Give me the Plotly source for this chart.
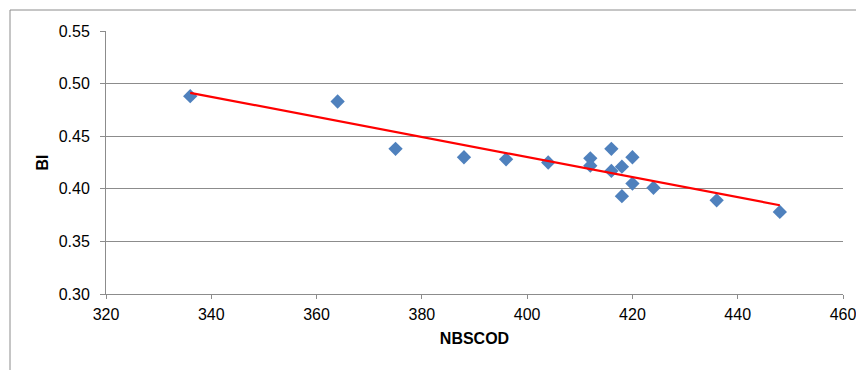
import numpy as np
import plotly.graph_objects as go

nbscod = [336, 364, 375, 388, 396, 404, 412, 412, 416, 416, 418, 420, 420, 418, 424, 436, 448]
bi = [0.488, 0.483, 0.438, 0.430, 0.428, 0.425, 0.429, 0.422, 0.438, 0.417, 0.421, 0.430, 0.405, 0.393, 0.401, 0.389, 0.378]

x_ticks = [320, 340, 360, 380, 400, 420, 440, 460]
y_ticks = [0.30, 0.35, 0.40, 0.45, 0.50, 0.55]

slope, intercept = np.polyfit(nbscod, bi, 1)
tx = [min(nbscod), max(nbscod)]
ty = [slope * v + intercept for v in tx]

fig = go.Figure()
fig.add_trace(go.Scatter(x=nbscod, y=bi, mode="markers",
                         marker=dict(symbol="diamond", size=11, color="#4F81BD",
                                     line=dict(width=0)),
                         showlegend=False))
fig.add_trace(go.Scatter(x=tx, y=ty, mode="lines",
                         line=dict(color="#FF0000", width=2.2),
                         showlegend=False))

# page has an 8px body margin; figure sized to fill the window exactly
OFF = 8
W, H = 864 - OFF, 370 - OFF
L, R, T, B = 106 - OFF, 21, 31 - OFF, 76
pw, ph = W - L - R, H - T - B

def px(xpage):
    return (xpage - OFF - L) / pw

def py(ypage):
    return (H - B - (ypage - OFF)) / ph

fig.add_shape(type="line", xref="paper", yref="paper",
              x0=px(10), x1=px(880), y0=py(10), y1=py(10),
              line=dict(color="#8C8C8C", width=1))
fig.add_shape(type="line", xref="paper", yref="paper",
              x0=px(10), x1=px(10), y0=py(10), y1=py(390),
              line=dict(color="#8C8C8C", width=1))

font = "Liberation Sans, Arial, sans-serif"
fig.update_layout(
    width=W, height=H,
    margin=dict(l=L, r=R, t=T, b=B),
    paper_bgcolor="white", plot_bgcolor="white",
    font=dict(family=font, size=16, color="#000000"),
    xaxis=dict(range=[320, 460], tickvals=x_ticks, ticktext=[str(v) for v in x_ticks],
               showgrid=False, zeroline=False, showline=True, linecolor="#8C8C8C",
               linewidth=1, ticks="outside", ticklen=4, tickcolor="#8C8C8C",
               ticklabelstandoff=2,
               title=dict(text="<b>NBSCOD</b>", font=dict(size=16), standoff=10),
               automargin=False),
    yaxis=dict(range=[0.30, 0.55], tickvals=y_ticks, ticktext=[f"{v:.2f}" for v in y_ticks],
               showgrid=True, gridcolor="#8C8C8C", gridwidth=1, zeroline=False,
               showline=True, linecolor="#8C8C8C", linewidth=1,
               ticks="outside", ticklen=5, tickcolor="#8C8C8C",
               ticklabelstandoff=7,
               title=dict(text="<b>BI</b>", font=dict(size=16), standoff=6),
               automargin=False),
)

fig.write_html("out.html")
